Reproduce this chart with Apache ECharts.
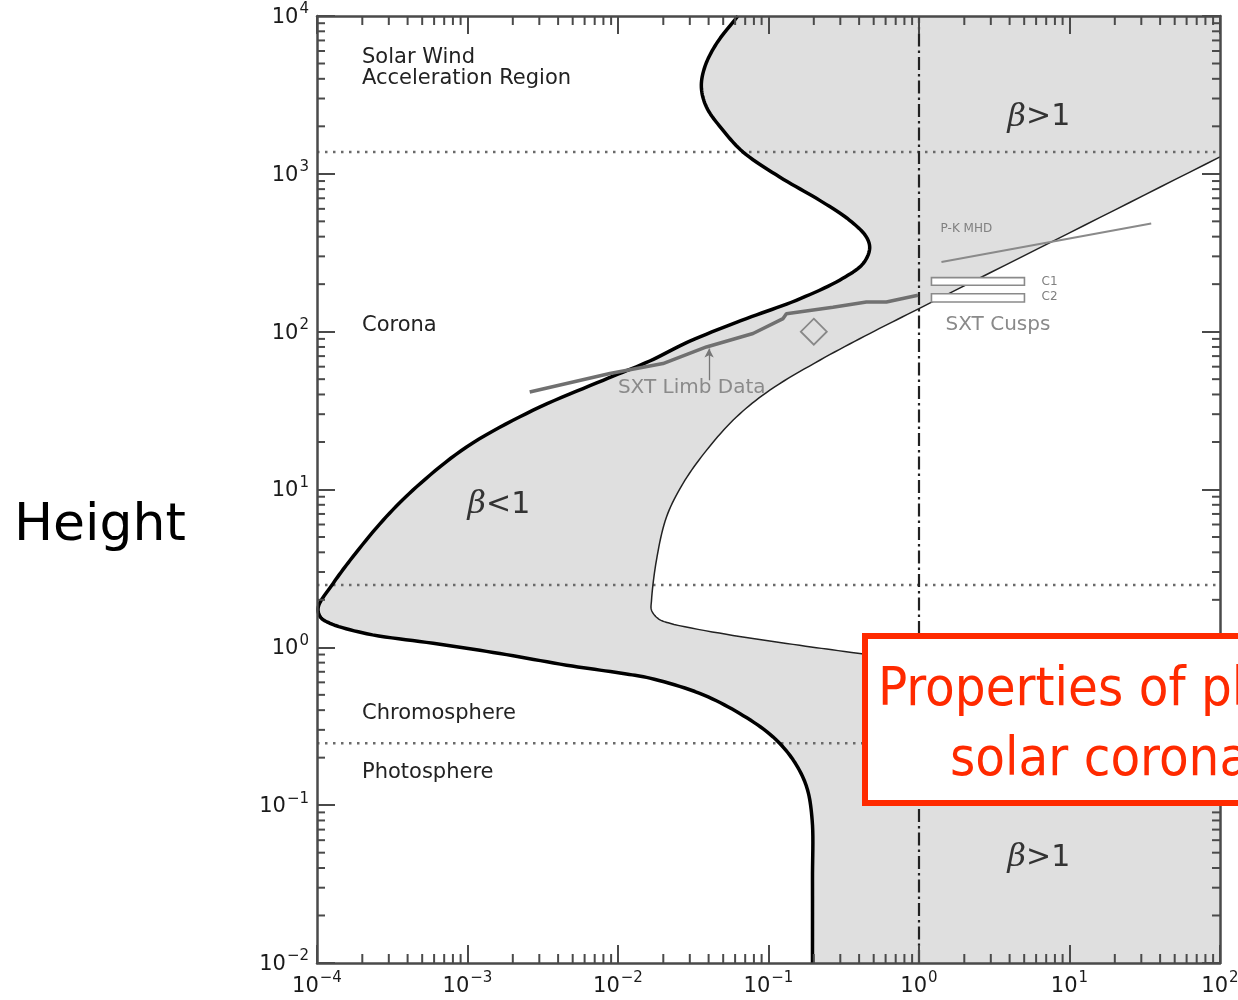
<!DOCTYPE html>
<html><head><meta charset="utf-8">
<script src="https://cdn.jsdelivr.net/npm/echarts@6/dist/echarts.min.js"></script>
<style>html,body{margin:0;padding:0;background:#fff}#c{width:1238px;height:1000px}</style>
</head><body><div id="c"></div>
<script>
// ---- data (magnetic field B [G] , height h [Mm]) ----
const thickBoundary = [
  [0.0626, 10000], [0.0451, 6680], [0.0377, 4745], [0.0358, 3548], [0.0387, 2649],
  [0.0499, 1885], [0.0678, 1374], [0.1186, 955], [0.219, 679], [0.346, 508],
  [0.447, 398], [0.470, 336], [0.425, 270], [0.297, 212], [0.153, 158],
  [0.0713, 121], [0.0300, 87], [0.01626, 65.2], [0.00796, 49.2], [0.00273, 31.8],
  [0.000986, 18.6], [0.000459, 10.4], [0.000275, 6.39], [0.000166, 3.56], [0.000128, 2.54],
  [0.000102, 1.80], [0.000105, 1.56], [0.000122, 1.42], [0.000214, 1.22], [0.000592, 1.06],
  [0.00164, 0.914], [0.00455, 0.771], [0.0103, 0.687], [0.01626, 0.638], [0.0349, 0.511],
  [0.0644, 0.381], [0.107, 0.271], [0.146, 0.193], [0.179, 0.131], [0.195, 0.0805],
  [0.196, 0.0336], [0.196, 0.01]
];
const thinBoundary = [
  [100, 1280], [10, 423], [1.0, 140], [0.47, 97.3], [0.219, 65.9], [0.102, 42.6], [0.0612, 28.8],
  [0.0387, 17.7], [0.0270, 10.9], [0.0210, 6.70], [0.0180, 3.56], [0.0167, 1.99],
  [0.0167, 1.72], [0.0185, 1.52], [0.0221, 1.42], [0.058, 1.19], [0.161, 1.03],
  [0.404, 0.914], [100, 0.47]
];
const sxtLimbData = [
  [0.00259, 41.5], [0.00883, 54.3], [0.0199, 62.8], [0.0387, 80.0], [0.0789, 97.3],
  [0.125, 121], [0.1315, 130], [0.268, 143], [0.447, 154], [0.607, 154], [0.984, 170]
];
const sxtArrow = [[0.0403, 49.2], [0.0403, 78.2]];
const pkMhd = [[1.41, 276], [34.9, 484]];
const cuspC1 = [1.21, 5.02, 197, 220];
const cuspC2 = [1.21, 5.02, 154, 174];
const diamondPoint = [[0.2, 100]];
const dottedLevels = [1374, 2.48, 0.247];
const betaUnityB = 1;
const xRange = [1e-4, 1e2];
const yRange = [1e-2, 1e4];
const regionLabels = [
  ['Solar Wind', 1.99e-4, 5470], ['Acceleration Region', 1.99e-4, 4027],
  ['Corona', 1.99e-4, 110], ['Chromosphere', 1.99e-4, 0.383], ['Photosphere', 1.99e-4, 0.162]
];
const betaLabels = [['β<1', 1.0e-3, 7.96], ['β>1', 3.87, 2280], ['β>1', 3.87, 0.0462]];
const grayLabelsLarge = [['SXT Limb Data', 0.00998, 43.9], ['SXT Cusps', 1.50, 110]];
const grayLabelsSmall = [['P-K MHD', 1.39, 445], ['C1', 6.52, 208], ['C2', 6.52, 165]];

// ---- helpers ----
const FONT = 'DejaVu Sans';
const minorVals = [];
for (let k = -4; k < 2; k++) for (let m = 2; m <= 9; m++) minorVals.push(m * Math.pow(10, k));
const minorValsY = [];
for (let k = -2; k < 4; k++) for (let m = 2; m <= 9; m++) minorValsY.push(m * Math.pow(10, k));

// centripetal Catmull-Rom smoothing of already-projected pixel points
function smoothPath(pts, n) {
  const out = [pts[0]];
  const d = (a, b) => Math.max(Math.pow(Math.hypot(b[0] - a[0], b[1] - a[1]), 0.5), 1e-4);
  const lerp = (a, b, ta, tb, t) => [
    (tb - t) / (tb - ta) * a[0] + (t - ta) / (tb - ta) * b[0],
    (tb - t) / (tb - ta) * a[1] + (t - ta) / (tb - ta) * b[1]];
  for (let i = 0; i < pts.length - 1; i++) {
    const p1 = pts[i], p2 = pts[i + 1];
    const p0 = pts[i - 1] || [2 * p1[0] - p2[0], 2 * p1[1] - p2[1]];
    const p3 = pts[i + 2] || [2 * p2[0] - p1[0], 2 * p2[1] - p1[1]];
    const t0 = 0, t1 = t0 + d(p0, p1), t2 = t1 + d(p1, p2), t3 = t2 + d(p2, p3);
    for (let j = 1; j <= n; j++) {
      const t = t1 + (t2 - t1) * j / n;
      const A1 = lerp(p0, p1, t0, t1, t), A2 = lerp(p1, p2, t1, t2, t), A3 = lerp(p2, p3, t2, t3, t);
      const B1 = lerp(A1, A2, t0, t2, t), B2 = lerp(A2, A3, t1, t3, t);
      out.push(lerp(B1, B2, t1, t2, t));
    }
  }
  return out;
}

const supFmt = v => {
  const e = Math.round(Math.log10(v));
  return '{b|10}{s|' + (e < 0 ? '\u2212' + (-e) : e) + '}';
};
const labelRich = {
  b: {fontSize: 21, fontFamily: FONT, color: '#1a1a1a', lineHeight: 24, verticalAlign: 'bottom'},
  s: {fontSize: 15, fontFamily: FONT, color: '#1a1a1a', lineHeight: 15, padding: [0, 0, 11, 1], verticalAlign: 'bottom'}
};
const axisCol = '#4a4a4a';
function mkAxis(isX, main) {
  const r = isX ? xRange : yRange;
  return {
    type: 'log', logBase: 10, min: r[0], max: r[1],
    position: isX ? (main ? 'bottom' : 'top') : (main ? 'left' : 'right'),
    z: 10,
    axisLine: {show: true, lineStyle: {color: axisCol, width: 2.5}},
    axisTick: {show: true, inside: true, length: 18, lineStyle: {color: axisCol, width: 2}},
    splitLine: {show: false},
    minorTick: {show: false},
    axisLabel: {
      show: main, formatter: supFmt, rich: labelRich, margin: isX ? 10 : 8,
      showMinLabel: true, showMaxLabel: true
    }
  };
}
function labelSeries(list, size, color, extra) {
  return {
    type: 'scatter', z: 6, symbolSize: 0.1, itemStyle: {color: 'transparent', opacity: 1}, silent: true,
    data: list.map(d => ({name: d[0], value: [d[1], d[2]]})),
    label: Object.assign({show: true, position: 'right', distance: 0, formatter: '{b}', opacity: 1,
      fontFamily: FONT, fontSize: size, color: color}, extra || {})
  };
}
function rectSeries(r) {
  return {
    type: 'custom', z: 5, silent: true, data: [r], encode: {x: [0, 1], y: [2, 3]},
    renderItem: (p, api) => {
      const a = api.coord([api.value(0), api.value(3)]);
      const b = api.coord([api.value(1), api.value(2)]);
      return {type: 'rect', shape: {x: a[0], y: a[1], width: b[0] - a[0], height: b[1] - a[1]},
        style: {fill: '#fff', stroke: '#8a8a8a', lineWidth: 1.6}};
    }
  };
}
function curveSeries(data, color, width, z) {
  return {
    type: 'custom', z: z, silent: true, data: [[1, 1]],
    renderItem: (p, api) => ({
      type: 'polyline', shape: {points: smoothPath(data.map(d => api.coord(d)), 10)},
      style: {stroke: color, lineWidth: width, fill: null, lineJoin: 'round'}
    })
  };
}

const series = [
  { // gray region right of the thick boundary
    type: 'custom', z: 1, silent: true, data: [[1, 1]],
    renderItem: (p, api) => {
      const pts = smoothPath(thickBoundary.map(d => api.coord(d)), 10);
      pts.push(api.coord([xRange[1], yRange[0]]), api.coord([xRange[1], yRange[1]]));
      return {type: 'polygon', shape: {points: pts}, style: {fill: '#dfdfdf'}};
    }
  },
  { // white region inside thin boundary
    type: 'custom', z: 1, silent: true, data: [[1, 1]],
    renderItem: (p, api) => {
      const pts = smoothPath(thinBoundary.map(d => api.coord(d)), 10);
      return {type: 'polygon', shape: {points: pts}, style: {fill: '#ffffff'}};
    }
  },
  ...dottedLevels.map(l => ({
    type: 'line', z: 2, silent: true, symbol: 'none', data: [[xRange[0], l], [xRange[1], l]],
    lineStyle: {color: '#6a6a6a', width: 2.5, type: [2.5, 5.5]}
  })),
  {
    type: 'line', z: 3, silent: true, symbol: 'none', data: [[betaUnityB, yRange[0]], [betaUnityB, yRange[1]]],
    lineStyle: {color: '#222', width: 2.2, type: [13, 4, 2.5, 4]}
  },
  curveSeries(thinBoundary, '#222', 1.5, 4),
  curveSeries(thickBoundary, '#000', 3.5, 4),
  {
    type: 'line', z: 4, silent: true, symbol: 'none', data: sxtLimbData,
    lineStyle: {color: '#707070', width: 3.5},
    markLine: {
      silent: true, symbol: ['none', 'arrow'], symbolSize: [7, 9], label: {show: false},
      lineStyle: {color: '#777', width: 1.3, type: 'solid'},
      data: [[{coord: sxtArrow[0]}, {coord: sxtArrow[1]}]]
    }
  },
  {type: 'line', z: 4, silent: true, symbol: 'none', data: pkMhd, lineStyle: {color: '#8a8a8a', width: 2}},
  rectSeries(cuspC1),
  rectSeries(cuspC2),
  {
    type: 'scatter', z: 5, silent: true, symbol: 'diamond', symbolSize: [26, 26], data: diamondPoint,
    itemStyle: {color: 'rgba(0,0,0,0)', borderColor: '#888', borderWidth: 1.8, opacity: 1}
  },
  labelSeries(regionLabels, 21, '#222'),
  labelSeries(grayLabelsLarge, 20, '#8a8a8a'),
  labelSeries(grayLabelsSmall, 12, '#808080'),
  labelSeries(betaLabels, 30, '#333', {
    formatter: p => '{g|β}{n|' + p.name.slice(1) + '}',
    rich: {
      g: {fontFamily: 'DejaVu Serif', fontStyle: 'italic', fontSize: 32, color: '#333'},
      n: {fontFamily: FONT, fontSize: 30, color: '#333'}
    }
  }),
  { // minor ticks on x (bottom & top)
    type: 'custom', z: 11, silent: true, clip: false, data: minorVals.map(v => [v, 1]),
    renderItem: (p, api) => {
      const cs = p.coordSys; const x = api.coord([api.value(0), 1])[0];
      const st = {stroke: axisCol, lineWidth: 2};
      return {type: 'group', children: [
        {type: 'line', shape: {x1: x, y1: cs.y + cs.height, x2: x, y2: cs.y + cs.height - 9}, style: st},
        {type: 'line', shape: {x1: x, y1: cs.y, x2: x, y2: cs.y + 9}, style: st}
      ]};
    }
  },
  { // minor ticks on y (left & right)
    type: 'custom', z: 11, silent: true, clip: false, data: minorValsY.map(v => [1, v]),
    renderItem: (p, api) => {
      const cs = p.coordSys; const y = api.coord([1, api.value(1)])[1];
      const st = {stroke: axisCol, lineWidth: 2};
      return {type: 'group', children: [
        {type: 'line', shape: {x1: cs.x, y1: y, x2: cs.x + 8, y2: y}, style: st},
        {type: 'line', shape: {x1: cs.x + cs.width, y1: y, x2: cs.x + cs.width - 8, y2: y}, style: st}
      ]};
    }
  }
];

const chart = echarts.init(document.getElementById('c'), null, {width: 1238, height: 1000});
chart.setOption({
  animation: false,
  backgroundColor: '#fff',
  grid: {left: 317, top: 16, width: 903, height: 947, containLabel: false, outerBoundsMode: 'none'},
  xAxis: [mkAxis(true, true), mkAxis(true, false)],
  yAxis: [mkAxis(false, true), mkAxis(false, false)],
  series: series,
  graphic: [
    {type: 'text', left: 14, top: 500, style: {text: 'Height', font: '52px "DejaVu Sans"', fill: '#000'}},
    {type: 'rect', z: 100, shape: {x: 865, y: 636, width: 420, height: 167},
      style: {fill: '#fff', stroke: '#ff2a00', lineWidth: 6}},
    {type: 'text', z: 101, x: 878, y: 691, style: {text: 'Properties of plasma in the',
      font: '54px "DejaVu Sans Condensed"', fill: '#ff2a00', verticalAlign: 'middle'}},
    {type: 'text', z: 101, x: 950, y: 761, style: {text: 'solar corona',
      font: '54px "DejaVu Sans Condensed"', fill: '#ff2a00', verticalAlign: 'middle'}}
  ]
});
</script></body></html>
